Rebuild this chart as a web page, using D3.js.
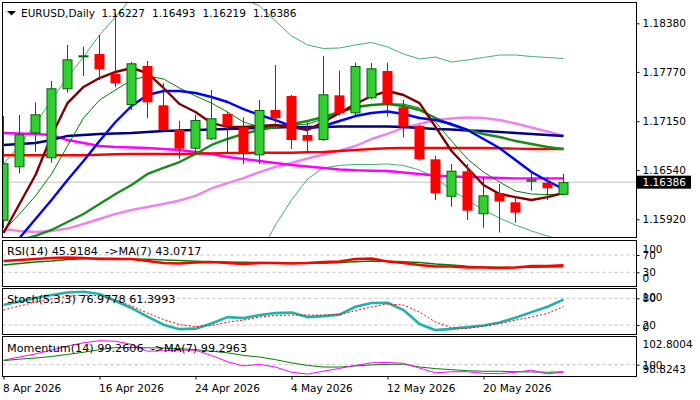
<!DOCTYPE html>
<html lang="en">
<head>
<meta charset="UTF-8">
<title>EURUSD Daily</title>
<script src="https://d3js.org/d3.v7.min.js"></script>
<style>
  html, body { margin: 0; padding: 0; background: #fff; }
  svg { display: block; }
  text { font-family: "DejaVu Sans", sans-serif; font-size: 10.5px; fill: #000; }
  text.ind { font-size: 11.2px; }
</style>
</head>
<body>
<div id="chart"></div>
<script>
// ---- data ----
const symbol = "EURUSD,Daily";
const dates = ["2026-04-08","2026-04-09","2026-04-10","2026-04-13","2026-04-14","2026-04-15","2026-04-16","2026-04-17",
  "2026-04-20","2026-04-21","2026-04-22","2026-04-23","2026-04-24","2026-04-27","2026-04-28","2026-04-29","2026-04-30",
  "2026-05-01","2026-05-04","2026-05-05","2026-05-06","2026-05-07","2026-05-08","2026-05-11","2026-05-12","2026-05-13",
  "2026-05-14","2026-05-15","2026-05-18","2026-05-19","2026-05-20","2026-05-21","2026-05-22","2026-05-25","2026-05-26","2026-05-27"];
const open  = [1.15902,1.16573,1.16999,1.16686,1.17552,1.17953,1.17995,1.17744,1.17355,1.17844,1.17351,1.17041,1.16806,1.16924,1.17242,1.17075,1.16723,1.17292,1.17468,1.16978,1.16915,1.17476,1.17250,1.17439,1.17781,1.17326,1.17091,1.16673,1.16203,1.16522,1.15983,1.16250,1.16133,1.16392,1.16379,1.16227];
const high  = [1.17216,1.17229,1.17388,1.17656,1.18108,1.18086,1.18233,1.18506,1.17894,1.17907,1.17627,1.17157,1.17229,1.17543,1.17270,1.17200,1.17417,1.17857,1.17480,1.17137,1.17970,1.17785,1.17885,1.17882,1.17885,1.17417,1.17103,1.16718,1.16614,1.16614,1.16447,1.16363,1.16212,1.16517,1.16447,1.16493];
const low   = [1.15811,1.16497,1.16768,1.16630,1.17509,1.17719,1.17668,1.17577,1.17292,1.17188,1.17019,1.16680,1.16727,1.16915,1.16748,1.16610,1.16614,1.17125,1.16802,1.16748,1.16905,1.17220,1.17229,1.17426,1.17208,1.16949,1.16655,1.16162,1.16078,1.15911,1.15814,1.15754,1.15877,1.16279,1.16162,1.16219];
const close = [1.16623,1.16987,1.17238,1.17564,1.17928,1.17978,1.17803,1.17627,1.17878,1.17388,1.17041,1.16806,1.17166,1.17188,1.17091,1.16748,1.17292,1.17188,1.16915,1.16906,1.17489,1.17250,1.17844,1.17815,1.17363,1.17082,1.16673,1.16246,1.16530,1.16028,1.16221,1.16143,1.16003,1.16422,1.16309,1.16386];

const maroonMA = [1.15748,1.16112,1.16476,1.16966,1.17379,1.17581,1.17693,1.17769,1.17819,1.17756,1.17568,1.17367,1.17267,1.17128,1.17079,1.17079,1.17091,1.17104,1.17079,1.17041,1.17141,1.17254,1.17367,1.17467,1.17530,1.17480,1.17379,1.17079,1.16777,1.16564,1.16350,1.16237,1.16199,1.16162,1.16199,1.16250];
const blueMA = [1.15447,1.15685,1.15924,1.16162,1.16413,1.16652,1.16903,1.17141,1.17342,1.17480,1.17530,1.17530,1.17505,1.17455,1.17392,1.17304,1.17229,1.17166,1.17091,1.17060,1.17091,1.17154,1.17216,1.17254,1.17273,1.17242,1.17191,1.17166,1.17116,1.17041,1.16928,1.16815,1.16664,1.16513,1.16400,1.16300];
const greenFast = [1.15773,1.15987,1.16213,1.16489,1.16840,1.17191,1.17417,1.17543,1.17668,1.17718,1.17681,1.17568,1.17467,1.17379,1.17267,1.17141,1.17079,1.17079,1.17104,1.17116,1.17179,1.17254,1.17317,1.17355,1.17367,1.17367,1.17317,1.17141,1.16903,1.16677,1.16513,1.16388,1.16275,1.16237,1.16231,1.16237];
const greenSlow = [1.15585,1.15660,1.15711,1.15786,1.15886,1.15987,1.16112,1.16237,1.16350,1.16489,1.16564,1.16639,1.16740,1.16853,1.16928,1.16991,1.17041,1.17079,1.17116,1.17154,1.17204,1.17267,1.17330,1.17355,1.17367,1.17342,1.17292,1.17191,1.17104,1.17041,1.16991,1.16953,1.16903,1.16865,1.16828,1.16802];
const navyMA = [1.16853,1.16865,1.16878,1.16915,1.16966,1.16978,1.16991,1.16997,1.17003,1.17016,1.17028,1.17034,1.17041,1.17047,1.17053,1.17060,1.17066,1.17072,1.17079,1.17079,1.17079,1.17085,1.17085,1.17085,1.17085,1.17079,1.17066,1.17053,1.17047,1.17034,1.17028,1.17016,1.17003,1.16991,1.16978,1.16966];
const redMA = [1.16723,1.16723,1.16723,1.16723,1.16723,1.16723,1.16731,1.16736,1.16740,1.16740,1.16740,1.16740,1.16743,1.16748,1.16752,1.16752,1.16756,1.16756,1.16756,1.16761,1.16765,1.16777,1.16790,1.16802,1.16811,1.16815,1.16815,1.16815,1.16815,1.16815,1.16815,1.16811,1.16807,1.16802,1.16802,1.16802];
const magentaMA = [1.17003,1.16997,1.16991,1.16978,1.16915,1.16878,1.16840,1.16828,1.16821,1.16815,1.16802,1.16790,1.16765,1.16740,1.16702,1.16677,1.16652,1.16627,1.16602,1.16583,1.16564,1.16545,1.16535,1.16530,1.16526,1.16507,1.16489,1.16470,1.16457,1.16451,1.16445,1.16438,1.16434,1.16434,1.16434,1.16434];
const violetMA = [1.15798,1.15773,1.15761,1.15773,1.15804,1.15861,1.15924,1.15987,1.16037,1.16074,1.16112,1.16156,1.16213,1.16307,1.16375,1.16438,1.16513,1.16577,1.16627,1.16683,1.16733,1.16783,1.16840,1.16928,1.16991,1.17066,1.17116,1.17166,1.17185,1.17198,1.17191,1.17166,1.17122,1.17072,1.17022,1.16966];
const bbUpper = [1.16614,1.16853,1.17116,1.17417,1.17706,1.17957,1.18233,1.18459,1.18698,1.18798,1.18861,1.18873,1.18848,1.18798,1.18748,1.18685,1.18597,1.18409,1.18221,1.18108,1.18064,1.18070,1.18108,1.18139,1.18083,1.17995,1.17932,1.17957,1.17894,1.17919,1.17951,1.17982,1.17982,1.17963,1.17951,1.17938];
const bbLower = [null,null,null,null,null,null,null,null,null,null,null,null,null,null,null,null,
  1.15472,1.15849,1.16162,1.16426,1.16564,1.16595,1.16608,1.16608,1.16614,1.16595,1.16539,1.16438,1.16288,1.16162,1.16037,1.15936,1.15848,1.15773,1.15710,1.15648];

const rsi = [56.1,58.5,60.8,63.1,64.2,63.1,60.8,60.8,60.8,56.1,51.5,50.4,52.7,53.8,51.5,49.2,51.5,51.5,50.4,51.5,53.8,55.0,60.8,61.9,55.0,51.5,46.9,43.4,43.4,41.1,41.1,40.0,41.1,44.6,44.6,45.9184];
const rsiMA = [46.9,50.4,53.8,56.1,59.6,61.5,62.4,61.9,60.8,60.1,58.5,57.3,55.5,54.5,53.8,53.1,52.7,52.2,51.5,50.8,50.8,52.7,54.5,56.1,55.5,54.5,52.7,49.2,46.9,43.9,42.3,41.6,41.1,41.6,42.3,43.0717];
const stochMain = [64.9,72.8,80.7,87.4,93.1,94.9,89.7,73.9,58.2,39.0,21.0,10.9,12.0,23.7,37.9,35.6,42.4,46.9,48.0,37.9,40.1,43.5,61.1,69.4,70.1,53.6,22.3,8.6,11.5,15.4,19.2,26.0,36.3,49.1,61.1,76.9778];
const stochSignal = [53.6,62.7,71.7,78.4,84.5,86.8,85.9,76.2,62.7,46.9,32.3,21.0,16.5,19.2,26.6,31.1,37.9,41.3,42.4,42.4,42.4,43.5,52.5,60.4,67.2,64.9,49.1,26.6,14.2,12.4,17.6,23.2,31.1,37.9,46.2,61.3993];
const momentum = [100.446,100.760,101.074,101.440,101.859,102.173,102.382,102.330,102.016,101.336,101.388,101.440,101.440,100.917,100.289,99.871,100.028,99.766,99.243,99.065,99.348,99.630,99.923,100.184,100.216,100.132,99.661,99.190,99.295,99.295,99.138,99.107,99.243,99.452,99.086,99.2606];
const momMA = [100.394,100.551,100.656,100.812,101.022,101.231,101.492,101.702,101.702,101.681,101.649,101.597,101.492,101.336,101.179,100.917,100.760,100.498,100.184,99.923,99.766,99.766,99.871,99.975,100.028,100.049,99.766,99.609,99.504,99.400,99.347,99.347,99.295,99.274,99.243,99.2963];

const priceTicks = [1.15920, 1.16540, 1.17150, 1.17770, 1.18380];
const priceRange = [1.15920, 1.18380];
const rsiLevels = [70, 30];
const stochLevels = [80, 20];
const momLevels = [100];
const momRange = [98.8243, 102.8004];
const dateTickIdx = [0, 6, 12, 18, 24, 30];

// ---- layout ----
const W = 700, H = 400;
const left = 2.5, right = 636.5;
const panels = {
  main:  { top: 2.5,   bottom: 237.5 },
  rsi:   { top: 240.5, bottom: 286.5 },
  stoch: { top: 288.5, bottom: 334.5 },
  mom:   { top: 336.5, bottom: 376.5 }
};

const svg = d3.select("#chart").append("svg").attr("width", W).attr("height", H);

const x = d3.scaleLinear().domain([0, dates.length - 1]).range([3.5, 563.5]);
const y = d3.scaleLinear().domain(priceRange).range([219.3, 23.3]);
const yRsi = d3.scaleLinear().domain([0, 100]).range([285.3, 242.0]);
const yStoch = d3.scaleLinear().domain([0, 100]).range([334, 289.4]);
const yMom = d3.scaleLinear().domain(momRange).range([376.5, 336.5]);

// clip paths
const defs = svg.append("defs");
Object.entries(panels).forEach(([k, p]) => {
  defs.append("clipPath").attr("id", "clip-" + k)
    .append("rect").attr("x", left).attr("y", p.top).attr("width", right - left).attr("height", p.bottom - p.top);
});

function layer(name) {
  return svg.append("g").attr("clip-path", `url(#clip-${name})`);
}

function drawLine(g, scale, values, color, width, dash) {
  const line = d3.line()
    .defined(v => v != null)
    .x((v, i) => x(i))
    .y(v => scale(v));
  g.append("path")
    .datum(values)
    .attr("d", line)
    .attr("fill", "none")
    .attr("stroke", color)
    .attr("stroke-width", width)
    .attr("stroke-dasharray", dash || null)
    .attr("stroke-linejoin", "round");
}

function hLevel(g, scale, v, dash) {
  g.append("line")
    .attr("x1", left).attr("x2", right)
    .attr("y1", scale(v)).attr("y2", scale(v))
    .attr("stroke", "#c0c0c0")
    .attr("stroke-dasharray", dash || null);
}

// ---- main panel ----
const gm = layer("main");
const last = close.length - 1;
hLevel(gm, y, close[last]);

drawLine(gm, y, bbUpper, "#3cb371", 1);
drawLine(gm, y, bbLower, "#3cb371", 1);
drawLine(gm, y, violetMA, "#ee82ee", 2.4);
drawLine(gm, y, magentaMA, "#ff00ff", 2.4);
drawLine(gm, y, redMA, "#ff0000", 2.4);
drawLine(gm, y, navyMA, "#000080", 2.4);
drawLine(gm, y, greenSlow, "#1a8a1a", 2.4);
drawLine(gm, y, greenFast, "#008000", 1);
drawLine(gm, y, blueMA, "#0000ff", 2.4);
drawLine(gm, y, maroonMA, "#800000", 2.4);

// candles
const candles = gm.selectAll("g.candle")
  .data(d3.range(close.length))
  .join("g")
  .attr("class", "candle");

candles.append("line")
  .attr("x1", i => x(i)).attr("x2", i => x(i))
  .attr("y1", i => y(high[i])).attr("y2", i => y(low[i]))
  .attr("stroke", i => close[i] >= open[i] ? "#006400" : "#b01010")
  .attr("stroke-width", 1);

candles.append("rect")
  .attr("x", i => close[i] >= open[i] ? x(i) - 4.5 : x(i) - 5)
  .attr("width", i => close[i] >= open[i] ? 9 : 10)
  .attr("y", i => y(Math.max(open[i], close[i])) + (close[i] >= open[i] ? 0.5 : 0))
  .attr("height", i => Math.max(1, Math.abs(y(open[i]) - y(close[i])) - (close[i] >= open[i] ? 1 : 0)))
  .attr("fill", i => close[i] >= open[i] ? "#32cd32" : "#ff0000")
  .attr("stroke", i => close[i] >= open[i] ? "#006400" : "none")
  .attr("stroke-width", 1);

// ---- RSI ----
const gr = layer("rsi");
rsiLevels.forEach(v => hLevel(gr, yRsi, v, "3,3"));
drawLine(gr, yRsi, rsiMA, "#008000", 1.5);
drawLine(gr, yRsi, rsi, "#ff0000", 2.6);

// ---- Stochastic ----
const gs = layer("stoch");
stochLevels.forEach(v => hLevel(gs, yStoch, v, "3,3"));
drawLine(gs, yStoch, stochMain, "#20b2aa", 2.6);
drawLine(gs, yStoch, stochSignal, "#ff0000", 1, "2,2");

// ---- Momentum ----
const gmo = layer("mom");
momLevels.forEach(v => hLevel(gmo, yMom, v, "3,3"));
drawLine(gmo, yMom, momMA, "#008000", 1);
drawLine(gmo, yMom, momentum, "#ff00ff", 1);

// ---- frames ----
Object.values(panels).forEach(p => {
  svg.append("rect")
    .attr("x", left).attr("y", p.top)
    .attr("width", right - left).attr("height", p.bottom - p.top)
    .attr("fill", "none").attr("stroke", "#000").attr("stroke-width", 1);
});

// ---- right axes ----
const ax = svg.append("g")
  .attr("transform", `translate(${right},0)`)
  .call(d3.axisRight(y).tickValues(priceTicks).tickSize(3).tickPadding(3).tickFormat(d3.format(".5f")));
ax.select(".domain").remove();

// current price tag
const tagY = y(close[last]);
svg.append("rect").attr("x", 637).attr("y", tagY - 6.5).attr("width", 54).attr("height", 13).attr("fill", "#000");
svg.append("text").attr("x", 642.5).attr("y", tagY).attr("dy", "0.36em")
  .style("fill", "#fff").text(d3.format(".5f")(close[last]));

function sideLabels(scale, levels, fmt, lo, hi) {
  const g = svg.append("g").attr("transform", `translate(${right},0)`);
  g.call(d3.axisRight(scale).tickValues(levels).tickSize(3).tickPadding(3).tickFormat(fmt));
  g.select(".domain").remove();
  // range end labels sit just inside the window
  g.append("text").attr("x", 6).attr("y", scale(hi) + 7.5).attr("dy", "0.36em").text(fmt(hi));
  g.append("text").attr("x", 6).attr("y", scale(lo) - 7).attr("dy", "0.36em").text(fmt(lo));
}
sideLabels(yRsi, rsiLevels, d3.format("d"), 0, 100);
sideLabels(yStoch, stochLevels, d3.format("d"), 0, 100);
sideLabels(yMom, momLevels, v => v === 100 ? "100" : d3.format(".4f")(v), momRange[0], momRange[1]);

// ---- x axis ----
const parseDate = d3.timeParse("%Y-%m-%d");
const fmtDate = d3.timeFormat("%-d %b %Y");
const gx = svg.append("g")
  .attr("transform", `translate(0,${panels.mom.bottom})`)
  .call(d3.axisBottom(x).tickValues(dateTickIdx).tickSize(3).tickFormat(i => fmtDate(parseDate(dates[i]))));
gx.select(".domain").remove();
gx.selectAll("text").attr("text-anchor", "start").attr("x", -1).attr("y", 15).attr("dy", 0);

// ---- titles ----
svg.append("path").attr("d", "M7,11 L16,11 L11.5,15.5 Z").attr("fill", "#000");
svg.append("text").attr("x", 21).attr("y", 16.5).text(symbol);
const f5 = d3.format(".5f");
[open[last], high[last], low[last], close[last]].forEach((v, k) => {
  svg.append("text").attr("x", 101.5 + k * 50.5).attr("y", 16.5).text(f5(v));
});
const f4 = d3.format(".4f");
svg.append("text").attr("class", "ind").attr("x", 7).attr("y", 255).style("white-space", "pre")
  .text(`RSI(14) ${f4(rsi[last])}  ->MA(7) ${f4(rsiMA[last])}`);
svg.append("text").attr("class", "ind").attr("x", 7).attr("y", 303).style("white-space", "pre")
  .text(`Stoch(5,3,3) ${f4(stochMain[last])} ${f4(stochSignal[last])}`);
svg.append("text").attr("class", "ind").attr("x", 7).attr("y", 351.5).style("white-space", "pre")
  .text(`Momentum(14) ${f4(momentum[last])}  ->MA(7) ${f4(momMA[last])}`);
</script>
</body>
</html>
